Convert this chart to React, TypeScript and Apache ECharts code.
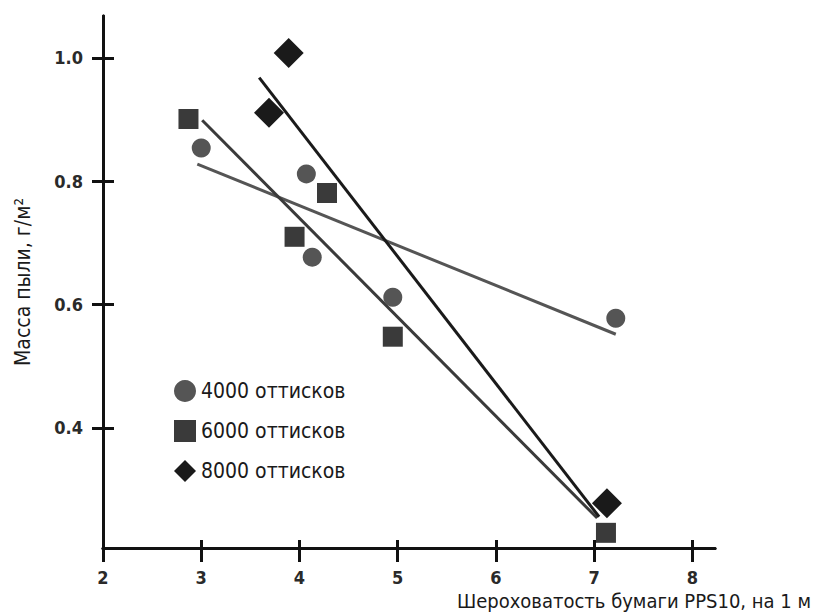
import React, { useEffect, useRef } from "react";
import * as echarts from "echarts";

const s4000: [number, number][] = [
  [3.0, 0.854],
  [4.07, 0.812],
  [4.13, 0.677],
  [4.95, 0.612],
  [7.22, 0.578],
];
const s6000: [number, number][] = [
  [2.87, 0.901],
  [4.28, 0.781],
  [3.95, 0.71],
  [4.95, 0.548],
  [7.12, 0.23],
];
const s8000: [number, number][] = [
  [3.89, 1.008],
  [3.69, 0.911],
  [7.13, 0.278],
];
const fit4000: [number, number][] = [
  [2.96, 0.828],
  [7.22, 0.552],
];
const fit6000: [number, number][] = [
  [3.01, 0.899],
  [7.03, 0.254],
];
const fit8000: [number, number][] = [
  [3.59, 0.968],
  [7.05, 0.256],
];
const seriesNames = ["4000 оттисков", "6000 оттисков", "8000 оттисков"];
const xTicks = [2, 3, 4, 5, 6, 7, 8];
const yTicks = [0.4, 0.6, 0.8, 1.0];
const xName = "Шероховатость бумаги PPS10, на 1 м";
const yName = "Масса пыли, г/м²";

const FONT = "'Liberation Sans Narrow', 'DejaVu Sans Condensed', sans-serif";
const C4 = "#555555";
const C6 = "#3a3a3a";
const C8 = "#1a1a1a";

export default function App() {
  const ref = useRef<HTMLDivElement>(null);
  useEffect(() => {
    if (!ref.current) return;
    const chart = echarts.init(ref.current, undefined, { renderer: "svg" });
    const axisLine = { show: true, lineStyle: { color: "#111", width: 3 } };
    const xBase = {
      type: "value" as const,
      min: 2,
      max: 8.23,
      splitLine: { show: false },
      axisLine,
    };
    const yBase = {
      type: "value" as const,
      min: 0.2054,
      max: 1.068,
      splitLine: { show: false },
      axisLine,
    };
    chart.setOption({
      animation: false,
      backgroundColor: "#ffffff",
      grid: {
        left: 103,
        right: 101,
        top: 16,
        bottom: 66,
        containLabel: false,
        outerBoundsMode: "none",
      },
      graphic: [
        {
          type: "text",
          right: 5,
          top: 591,
          style: {
            text: xName,
            fontFamily: FONT,
            fontSize: 20,
            fill: "#1a1a1a",
          },
        },
      ],
      legend: {
        orient: "vertical",
        left: 169,
        top: 375,
        itemGap: 18,
        itemWidth: 22,
        itemHeight: 22,
        data: [
          { name: seriesNames[0], icon: "circle" },
          { name: seriesNames[1], icon: "rect" },
          { name: seriesNames[2], icon: "diamond" },
        ],
        textStyle: { fontFamily: FONT, fontSize: 21, color: "#1a1a1a" },
      },
      xAxis: [
        {
          ...xBase,
          axisTick: {
            show: true,
            length: 14,
            customValues: xTicks,
            lineStyle: { color: "#111", width: 3 },
          },
          axisLabel: {
            customValues: xTicks,
            fontFamily: FONT,
            fontWeight: "bold",
            fontSize: 18,
            color: "#2a2a2a",
            margin: 20,
          },
        },
        {
          ...xBase,
          position: "bottom",
          axisTick: {
            show: true,
            inside: true,
            length: 8,
            customValues: xTicks.slice(1),
            lineStyle: { color: "#111", width: 3 },
          },
          axisLabel: { show: false },
        },
      ],
      yAxis: [
        {
          ...yBase,
          name: yName,
          nameLocation: "middle",
          nameGap: 70,
          nameRotate: 90,
          nameTextStyle: { fontFamily: FONT, fontSize: 21, color: "#1a1a1a" },
          axisTick: {
            show: true,
            length: 11,
            customValues: yTicks,
            lineStyle: { color: "#111", width: 3 },
          },
          axisLabel: {
            customValues: yTicks,
            fontFamily: FONT,
            fontWeight: "bold",
            fontSize: 18,
            color: "#2a2a2a",
            margin: 20,
            formatter: (v: number) => v.toFixed(1),
          },
        },
        {
          ...yBase,
          position: "left",
          axisTick: {
            show: true,
            inside: true,
            length: 11,
            customValues: yTicks,
            lineStyle: { color: "#111", width: 3 },
          },
          axisLabel: { show: false },
        },
      ],
      series: [
        {
          type: "line",
          name: "fit4000",
          data: fit4000,
          symbol: "none",
          lineStyle: { color: C4, width: 3 },
          z: 1,
        },
        {
          type: "line",
          name: "fit6000",
          data: fit6000,
          symbol: "none",
          lineStyle: { color: C6, width: 3 },
          z: 1,
        },
        {
          type: "line",
          name: "fit8000",
          data: fit8000,
          symbol: "none",
          lineStyle: { color: C8, width: 3 },
          z: 1,
        },
        {
          type: "scatter",
          name: seriesNames[0],
          data: s4000,
          symbol: "circle",
          symbolSize: 19,
          itemStyle: { color: C4, opacity: 1 },
          z: 3,
        },
        {
          type: "scatter",
          name: seriesNames[1],
          data: s6000,
          symbol: "rect",
          symbolSize: 20,
          itemStyle: { color: C6, opacity: 1 },
          z: 3,
        },
        {
          type: "scatter",
          name: seriesNames[2],
          data: s8000,
          symbol: "diamond",
          symbolSize: 30,
          itemStyle: { color: C8, opacity: 1 },
          z: 3,
        },
      ],
    });
    return () => chart.dispose();
  }, []);
  return (
    <div
      ref={ref}
      style={{ position: "fixed", left: 0, top: 0, width: 816, height: 614 }}
    />
  );
}
